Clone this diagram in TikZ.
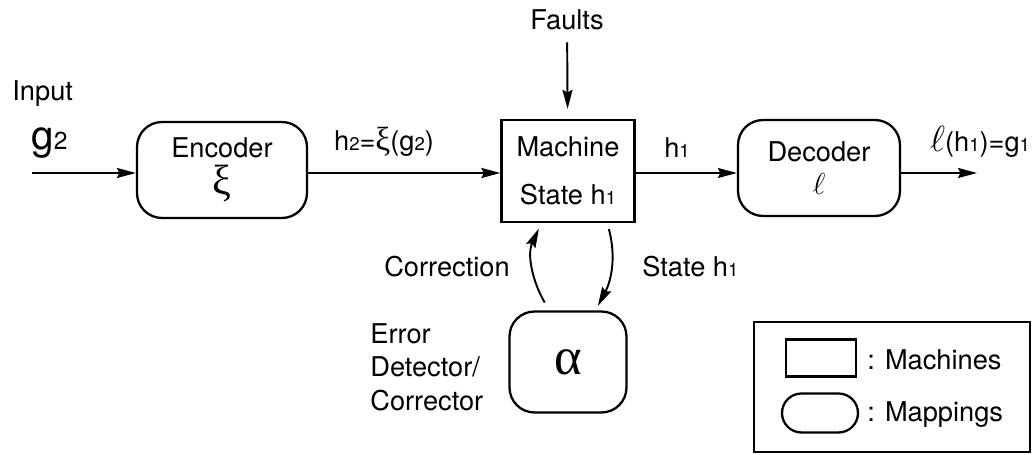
\documentclass[tikz,border=0pt]{standalone}
\usepackage{fontspec}
\setmainfont{TeX Gyre Heros}
\newfontfamily\grk{Liberation Serif}
\usetikzlibrary{arrows.meta, positioning}
\newcommand{\ix}[1]{{\fontsize{10.5}{10.5}\selectfont #1}}

\begin{document}
\begin{tikzpicture}[x=0.02cm, y=-0.02cm,
        font=\fontsize{15.5}{19}\selectfont,
        machine/.style={rectangle, draw=black, line width=1.3pt, minimum width=2.66cm, minimum height=2.04cm, align=center},
        mapping/.style={rectangle, rounded corners=0.5cm, draw=black, line width=1.3pt, minimum width=3.4cm, minimum height=1.92cm, align=center},
        lbl/.style={inner sep=0pt, align=left},
        arrow/.style={-{Stealth[length=0.38cm, width=0.2cm, inset=0.05cm]}, line width=1.1pt, draw=black}
    ]
    \useasboundingbox (0,0) rectangle (1036,455);

    % Encoder
    \node[lbl, anchor=west] (input_lbl) at (12,94) {Input};
    \node[lbl, anchor=base west] (g2_lbl) at (31,150) {\fontsize{23}{23}\selectfont g\fontsize{14}{14}\selectfont 2};
    \coordinate (input) at (32,173);
    \node[mapping] (encoder) at (222,170) {Encoder\\[2pt]{\grk\fontsize{24}{24}\selectfont ξ}};
    \draw[arrow] (input) -- (input -| encoder.west);

    % Machine
    \node[machine] (machine) at (568,171) {Machine\\[8pt]State h\ix{1}};
    \node[lbl] (h2_lbl) at (384,142) {h\ix{2}={\grk\fontsize{19}{19}\selectfont ξ}(g\ix{2})};
    \draw[arrow] (encoder.east |- input) -- (machine.west |- input);
    \node[lbl] (fault_lbl) at (567,20) {Faults};
    \draw[arrow, shorten <=0.24cm, shorten >=0.2cm] (fault_lbl) -- (machine);

    % Decoder
    \node[mapping, minimum width=3.24cm] (decoder) at (819,168) {Decoder\\{\fontsize{18}{18}\selectfont$\ell$}};
    \node[lbl] (h1_lbl) at (677,148) {h\ix{1}};
    \draw[arrow] (machine.east |- input) -- (decoder.west |- input);
    \coordinate (output) at (977,173);
    \node[lbl] (out_lbl) at (980,142) {{\fontsize{21}{21}\selectfont$\ell$}(h\ix{1})=g\ix{1}};
    \draw[arrow] (decoder.east |- output) -- (output);

    % Error detector/corrector
    \node[mapping, minimum width=2.34cm, minimum height=2.02cm] (alpha) at (568,362) {\grk\fontsize{30}{30}\selectfont α};
    \draw[arrow, shorten <=0.18cm, shorten >=0.12cm] (alpha.110) to[out=120, in=-115] (machine.243);
    \draw[arrow, shorten <=0.12cm, shorten >=0.1cm] (machine.307) to[out=-75, in=62] (alpha.62);
    \node[lbl, anchor=east] (corr_lbl) at (510,267) {Correction};
    \node[lbl, anchor=west] (state_lbl) at (642,267) {State h\ix{1}};
    \node[lbl, anchor=west] (detector_lbl) at (370,367) {Error\\Detector/\\Corrector};

    % Legend
    \node[draw=black, line width=1pt, minimum width=5.52cm, minimum height=2.6cm] (legend) at (892,387) {};
    \node[machine, minimum width=1.4cm, minimum height=0.74cm] (legend_machine) at (821,358) {};
    \node[mapping, minimum width=1.52cm, minimum height=0.78cm, rounded corners=0.39cm] (legend_mapping) at (820,413) {};
    \node[lbl, anchor=west] (machines_lbl) at (867,360) {: Machines};
    \node[lbl, anchor=west] (mappings_lbl) at (867,415) {: Mappings};

\end{tikzpicture}
\end{document}
